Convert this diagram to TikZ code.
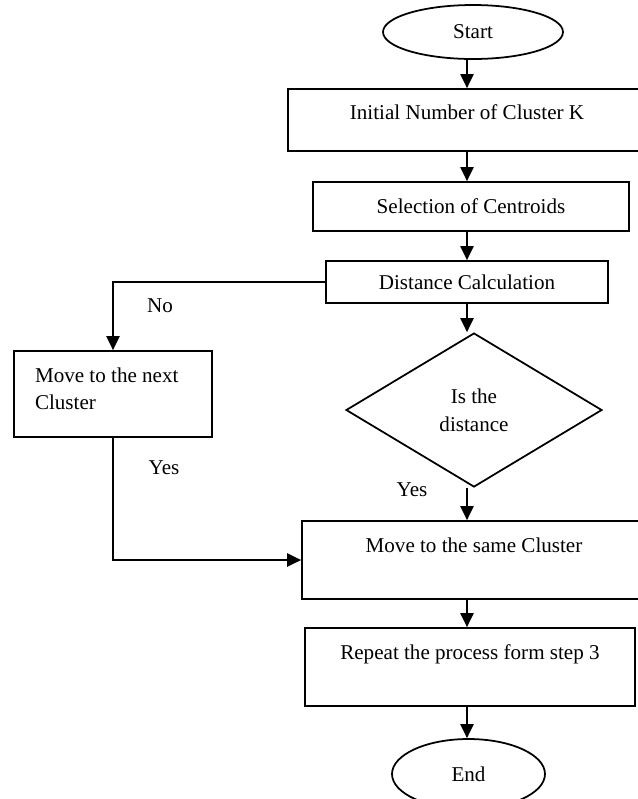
\documentclass[tikz,border=0pt]{standalone}
\usepackage{fontspec}
\setmainfont{Liberation Serif}
\usepackage{tikz}
\usetikzlibrary{arrows.meta, shapes.geometric, calc}

\begin{document}
\begin{tikzpicture}[x=0.02cm, y=-0.02cm, >={Triangle[length=8pt,width=7.5pt]},
  every node/.style={font=\fontsize{12}{16}\selectfont},
  box/.style={draw, line width=1pt, rectangle, inner sep=0pt, text height=8pt, text depth=#1},
  box/.default=0pt,
  oval/.style={draw, line width=1pt, ellipse, inner sep=0pt},
  flow/.style={->, line width=1pt}]

  \useasboundingbox (0,0) rectangle (637,799);
  \coordinate (axis) at (467,0);

  % Start
  \node[oval, minimum width=3.6cm, minimum height=1.08cm] (start) at (473,32) {Start};

  % Blocs principaux
  \node[box=9pt, minimum width=7.16cm, minimum height=1.24cm] (init) at (467,120) {Initial Number of Cluster K};
  \node[box, minimum width=6.32cm, minimum height=0.98cm] (sel) at (471,206.5) {Selection of Centroids};
  \node[box, minimum width=5.64cm, minimum height=0.84cm] (dist) at (467,282) {Distance Calculation};

  % Test
  \node[draw, line width=1pt, diamond, aspect=1.66, inner sep=0pt, minimum width=5.12cm, minimum height=3.08cm, align=center] (test) at (474,410) {Is the\\distance};

  % Branche gauche
  \node[draw, line width=1pt, text width=3.12cm, inner xsep=0.42cm, inner ysep=0pt, minimum height=1.72cm, align=flush left] (next) at (113,394) {Move to the next\\[-1pt]Cluster\rule[-6pt]{0pt}{0pt}};

  \node[box=16pt, minimum width=6.88cm, minimum height=1.56cm] (same) at (474,560) {Move to the same Cluster};
  \node[box=16pt, minimum width=6.6cm, minimum height=1.56cm] (rep) at (470,667) {Repeat the process form step 3};

  % End
  \node[oval, minimum width=3.06cm, minimum height=1.4cm] (stop) at (468.5,774) {End};

  % Fleches
  \draw[flow] (start.south -| axis) -- (init.north -| axis);
  \draw[flow] (init.south -| axis) -- (sel.north -| axis);
  \draw[flow] (sel.south -| axis) -- (dist.north -| axis);
  \draw[flow] (dist.south -| axis) -- (test.north -| axis);
  \draw[flow] (test.south -| axis) -- (same.north -| axis);
  \draw[flow] (same.south -| axis) -- (rep.north -| axis);
  \draw[flow] (rep.south -| axis) -- (stop.north -| axis);
  \draw[flow] (dist.west) -| (next.north);
  \draw[flow] (next.south) |- (same.west);

  % Labels
  \node (no) at (160,306) {No};
  \node (yesa) at (164,468) {Yes};
  \node (yesb) at (412,490) {Yes};
\end{tikzpicture}
\end{document}
